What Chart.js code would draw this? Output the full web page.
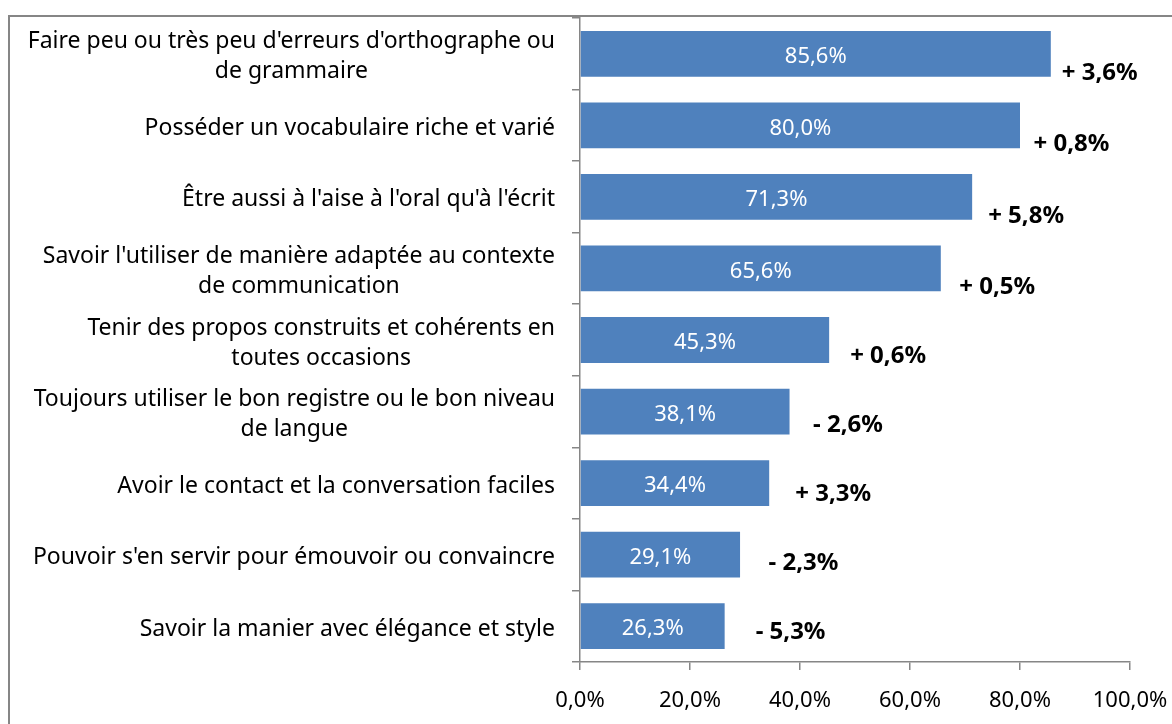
<!DOCTYPE html>
<html lang="fr">
<head>
  <meta charset="UTF-8">
  <title>Qualités d'expression</title>
  <style>
    html, body { margin: 0; padding: 0; background: #fff; }
    #wrap { width: 1172px; height: 724px; }
  </style>
  <script src="https://cdn.jsdelivr.net/npm/chart.js"></script>
</head>
<body>
  <div id="wrap"><canvas id="chart" width="1172" height="724"></canvas></div>

  <script>
    // categories (multi-line labels) and values
    const categories = [
      ["Faire peu ou très peu d'erreurs d'orthographe ou", "de grammaire"],
      "Posséder un vocabulaire riche et varié",
      "Être aussi à l'aise à l'oral qu'à l'écrit",
      ["Savoir l'utiliser de manière adaptée au contexte", "de communication"],
      ["Tenir des propos construits et cohérents en", "toutes occasions"],
      ["Toujours utiliser le bon registre ou le bon niveau", "de langue"],
      "Avoir le contact et la conversation faciles",
      "Pouvoir s'en servir pour émouvoir ou convaincre",
      "Savoir la manier avec élégance et style"
    ];
    const values = [85.6, 80.0, 71.3, 65.6, 45.3, 38.1, 34.4, 29.1, 26.3];
    const changes = ["+ 3,6%", "+ 0,8%", "+ 5,8%", "+ 0,5%", "+ 0,6%", "- 2,6%", "+ 3,3%", "- 2,3%", "- 5,3%"];
    const xTicks = [0, 20, 40, 60, 80, 100];

    const FONT = '"Noto Sans", sans-serif';
    const AXIS = '#868686';
    const fmt = v => v.toFixed(1).replace('.', ',') + '%';

    // grey frame, category labels (lines centred within a right-aligned block),
    // white value labels in the bars, bold change labels beside them
    const labelsPlugin = {
      id: 'labels',
      beforeDraw(chart) {
        const ctx = chart.ctx;
        ctx.save();
        ctx.strokeStyle = AXIS;
        ctx.lineWidth = 2;
        ctx.strokeRect(9, 16, 1300, 900);
        ctx.restore();
      },
      afterDraw(chart) {
        const ctx = chart.ctx;
        const y = chart.scales.y;
        const right = y.right - 25;
        ctx.save();
        ctx.font = '23px ' + FONT;
        ctx.fillStyle = '#000';
        ctx.textAlign = 'center';
        ctx.textBaseline = 'middle';
        categories.forEach((cat, i) => {
          const lines = Array.isArray(cat) ? cat : [cat];
          const w = Math.max(...lines.map(l => ctx.measureText(l).width));
          const cy = y.getPixelForTick(i) + 3;
          const lh = 30;
          lines.forEach((l, k) => {
            ctx.fillText(l, right - w / 2, cy + (k - (lines.length - 1) / 2) * lh);
          });
        });
        ctx.restore();
      },
      afterDatasetsDraw(chart) {
        const ctx = chart.ctx;
        const meta = chart.getDatasetMeta(0);
        ctx.save();
        meta.data.forEach((bar, i) => {
          ctx.textBaseline = 'middle';
          ctx.fillStyle = '#fff';
          ctx.textAlign = 'center';
          ctx.font = '22px ' + FONT;
          ctx.fillText(fmt(values[i]), (bar.base + bar.x) / 2, bar.y + 3);

          const dx = 11 + 2.5 * i;
          const dy = i < 4 ? 19 : 19 - 2.6 * (i - 3);
          ctx.fillStyle = '#000';
          ctx.textAlign = 'left';
          ctx.font = 'bold 24px ' + FONT;
          ctx.fillText(changes[i], bar.x + dx, bar.y + dy);
        });
        ctx.restore();
      }
    };

    new Chart(document.getElementById('chart'), {
      type: 'bar',
      data: {
        labels: categories,
        datasets: [{
          data: values,
          backgroundColor: '#4F81BD',
          borderWidth: 0,
          barPercentage: 0.64,
          categoryPercentage: 1
        }]
      },
      options: {
        indexAxis: 'y',
        responsive: false,
        animation: false,
        layout: { padding: { top: 18, right: 42, left: 0, bottom: 0 } },
        plugins: { legend: { display: false }, tooltip: { enabled: false } },
        scales: {
          x: {
            min: 0,
            max: 100,
            afterFit: s => { s.height = 62; s.paddingLeft = 0; s.paddingRight = 0; },
            afterBuildTicks: s => { s.ticks = xTicks.map(v => ({ value: v })); },
            border: { color: AXIS, width: 1.5 },
            grid: { drawOnChartArea: false, tickLength: 8, color: AXIS, lineWidth: 1.5 },
            ticks: {
              color: '#000',
              padding: 18,
              maxRotation: 0,
              font: { family: FONT, size: 22 },
              callback: v => fmt(v)
            }
          },
          y: {
            afterFit: s => { s.width = 580; s.paddingTop = 0; s.paddingBottom = 0; },
            border: { color: AXIS, width: 1.5 },
            grid: { drawOnChartArea: false, tickLength: 8, color: AXIS, lineWidth: 1.5, offset: true },
            ticks: {
              // labels are painted by the plugin above
              color: 'rgba(0,0,0,0)',
              padding: 17,
              font: { family: FONT, size: 23, lineHeight: 1.33 }
            }
          }
        }
      },
      plugins: [labelsPlugin]
    });
  </script>
</body>
</html>
